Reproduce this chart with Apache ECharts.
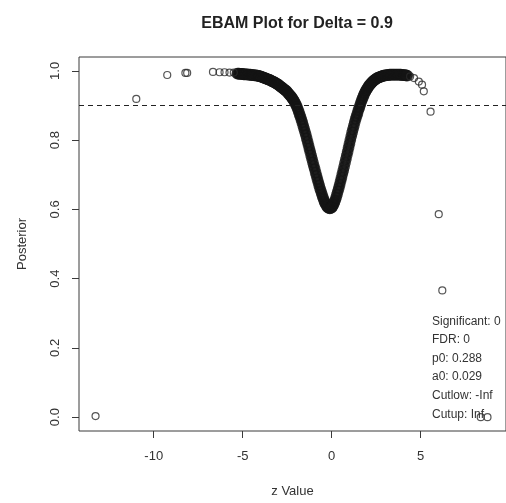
<!DOCTYPE html>
<html>
<head>
<meta charset="utf-8">
<script src="https://cdn.jsdelivr.net/npm/echarts@6/dist/echarts.min.js"></script>
<style>
  html, body { margin: 0; padding: 0; background: #ffffff; }
  #chart { width: 506px; height: 503px; }
</style>
</head>
<body>
<div id="chart"></div>
<script>
// EBAM posterior probabilities against z values (Delta = 0.9)
const titleText = 'EBAM Plot for Delta = 0.9';
const deltaLevel = 0.9;

const xTicks = [-10, -5, 0, 5];
const yTicks = [0, 0.2, 0.4, 0.6, 0.8, 1.0];

// isolated genes in the tails: [z, posterior]
const tailPoints = [
  [-13.27, 0.003], [-10.98, 0.919], [-9.24, 0.988], [-8.22, 0.994], [-8.12, 0.994],
  [-6.67, 0.997], [-6.30, 0.996], [-6.02, 0.996], [-5.74, 0.995], [-5.50, 0.995],
  [4.41, 0.984], [4.63, 0.979], [4.90, 0.969], [5.08, 0.960], [5.18, 0.941],
  [5.56, 0.882], [6.02, 0.586], [6.22, 0.366], [8.38, 0.000], [8.76, 0.000]
];

// the bulk of the genes, packed closely along the posterior curve: [z, posterior]
const bulkPoints = [
  [-5.30,0.992],[-5.25,0.992],[-5.20,0.992],[-5.15,0.991],[-5.10,0.991],[-5.05,0.991],[-5.00,0.991],
  [-4.95,0.990],[-4.90,0.990],[-4.85,0.990],[-4.80,0.990],[-4.75,0.990],[-4.70,0.989],[-4.65,0.989],
  [-4.60,0.989],[-4.55,0.989],[-4.50,0.988],[-4.45,0.988],[-4.40,0.988],[-4.35,0.987],[-4.30,0.987],
  [-4.25,0.987],[-4.20,0.986],[-4.15,0.986],[-4.10,0.985],[-4.05,0.985],[-4.00,0.984],[-3.95,0.983],
  [-3.90,0.982],[-3.85,0.981],[-3.80,0.980],[-3.75,0.979],[-3.70,0.978],[-3.65,0.977],[-3.60,0.976],
  [-3.55,0.975],[-3.50,0.974],[-3.45,0.973],[-3.40,0.972],[-3.35,0.970],[-3.30,0.969],[-3.25,0.968],
  [-3.20,0.966],[-3.15,0.965],[-3.10,0.963],[-3.05,0.962],[-3.00,0.960],[-2.95,0.958],[-2.90,0.956],
  [-2.85,0.954],[-2.80,0.952],[-2.75,0.950],[-2.70,0.948],[-2.65,0.946],[-2.60,0.944],[-2.55,0.942],
  [-2.50,0.939],[-2.45,0.936],[-2.40,0.933],[-2.35,0.930],[-2.30,0.927],[-2.25,0.924],[-2.20,0.920],
  [-2.15,0.916],[-2.10,0.912],[-2.05,0.907],[-2.00,0.902],[-1.95,0.896],[-1.90,0.889],[-1.85,0.882],
  [-1.80,0.874],[-1.75,0.867],[-1.70,0.859],[-1.65,0.851],[-1.60,0.842],[-1.55,0.833],[-1.50,0.824],
  [-1.45,0.815],[-1.40,0.805],[-1.35,0.795],[-1.30,0.785],[-1.25,0.775],[-1.20,0.765],[-1.15,0.755],
  [-1.10,0.745],[-1.05,0.735],[-1.00,0.725],[-0.95,0.716],[-0.90,0.706],[-0.85,0.697],[-0.80,0.687],
  [-0.75,0.678],[-0.70,0.669],[-0.65,0.660],[-0.60,0.652],[-0.55,0.644],[-0.50,0.636],[-0.45,0.629],
  [-0.40,0.622],[-0.35,0.617],[-0.30,0.612],[-0.25,0.608],[-0.20,0.605],[-0.15,0.604],[-0.10,0.603],
  [-0.05,0.604],[0.00,0.605],[0.05,0.609],[0.10,0.614],[0.15,0.620],[0.20,0.626],[0.25,0.634],
  [0.30,0.643],[0.35,0.652],[0.40,0.661],[0.45,0.671],[0.50,0.681],[0.55,0.691],[0.60,0.702],
  [0.65,0.712],[0.70,0.723],[0.75,0.734],[0.80,0.745],[0.85,0.756],[0.90,0.767],[0.95,0.778],
  [1.00,0.789],[1.05,0.800],[1.10,0.811],[1.15,0.822],[1.20,0.832],[1.25,0.842],[1.30,0.852],
  [1.35,0.861],[1.40,0.869],[1.45,0.877],[1.50,0.886],[1.55,0.893],[1.60,0.901],[1.65,0.909],
  [1.70,0.916],[1.75,0.923],[1.80,0.929],[1.85,0.935],[1.90,0.940],[1.95,0.945],[2.00,0.949],
  [2.05,0.953],[2.10,0.957],[2.15,0.960],[2.20,0.963],[2.25,0.966],[2.30,0.969],[2.35,0.971],
  [2.40,0.973],[2.45,0.975],[2.50,0.977],[2.55,0.979],[2.60,0.980],[2.65,0.981],[2.70,0.982],
  [2.75,0.983],[2.80,0.984],[2.85,0.985],[2.90,0.986],[2.95,0.986],[3.00,0.987],[3.05,0.987],
  [3.10,0.988],[3.15,0.988],[3.20,0.988],[3.25,0.989],[3.30,0.989],[3.35,0.989],[3.40,0.989],
  [3.45,0.989],[3.50,0.989],[3.55,0.989],[3.60,0.989],[3.65,0.989],[3.70,0.989],[3.75,0.989],
  [3.80,0.989],[3.85,0.989],[3.90,0.989],[3.95,0.988],[4.00,0.988],[4.05,0.988],[4.10,0.988],
  [4.15,0.987],[4.20,0.987],[4.25,0.986]
];

// summary printed inside the plot
const summaryLines = [
  'Significant: 0',
  'FDR: 0',
  'p0: 0.288',
  'a0: 0.029',
  'Cutlow: -Inf',
  'Cutup: Inf'
];

const ink = '#2a2a2a';
const fontFamily = '"Liberation Sans", Arial, Helvetica, sans-serif';

const chart = echarts.init(document.getElementById('chart'), null, { renderer: 'canvas' });

chart.setOption({
  animation: false,
  backgroundColor: '#ffffff',
  title: {
    text: titleText,
    left: 292,
    top: 11,
    textAlign: 'center',
    textStyle: { fontFamily, fontSize: 16, fontWeight: 'bold', color: '#222' }
  },
  grid: {
    left: 79, top: 57, width: 434, height: 375,
    show: true, borderColor: '#3a3a3a', borderWidth: 1, backgroundColor: 'transparent'
  },
  xAxis: {
    type: 'value',
    min: -14.2, max: 9.8,
    name: 'z Value',
    nameLocation: 'middle',
    nameGap: 54,
    nameTextStyle: { fontFamily, fontSize: 13, color: '#333' },
    axisLine: { show: false, onZero: false },
    axisTick: { show: true, customValues: xTicks, length: 7, lineStyle: { color: '#3a3a3a' } },
    axisLabel: { customValues: xTicks, margin: 19, fontFamily, fontSize: 13, color: '#333' },
    splitLine: { show: false }
  },
  yAxis: {
    type: 'value',
    min: -0.04, max: 1.04,
    name: 'Posterior',
    nameLocation: 'middle',
    nameGap: 50,
    nameTextStyle: { fontFamily, fontSize: 13, color: '#333' },
    axisLine: { show: false, onZero: false },
    axisTick: { show: true, customValues: yTicks, length: 7, lineStyle: { color: '#3a3a3a' } },
    axisLabel: {
      customValues: yTicks, rotate: 90, margin: 17, fontFamily, fontSize: 13, color: '#333',
      formatter: v => v.toFixed(1)
    },
    splitLine: { show: false }
  },
  series: [
    {
      name: 'bulk',
      type: 'scatter',
      data: bulkPoints,
      symbol: 'circle',
      symbolSize: 7.5,
      itemStyle: { color: 'rgba(0,0,0,0)', borderColor: '#141414', borderWidth: 4.2 },
      silent: true,
      markLine: {
        silent: true,
        symbol: 'none',
        label: { show: false },
        lineStyle: { color: '#222', width: 1, type: [5, 4] },
        data: [{ yAxis: deltaLevel }]
      }
    },
    {
      name: 'tails',
      type: 'scatter',
      data: tailPoints,
      symbol: 'circle',
      symbolSize: 7,
      itemStyle: { color: 'rgba(0,0,0,0)', borderColor: ink, borderWidth: 1.2 },
      silent: true
    }
  ],
  graphic: [
    {
      type: 'text',
      left: 432,
      top: 312,
      silent: true,
      style: {
        text: summaryLines.join('\n'),
        fontFamily,
        fontSize: 12,
        lineHeight: 18.6,
        fill: '#333'
      }
    }
  ]
});
</script>
</body>
</html>
